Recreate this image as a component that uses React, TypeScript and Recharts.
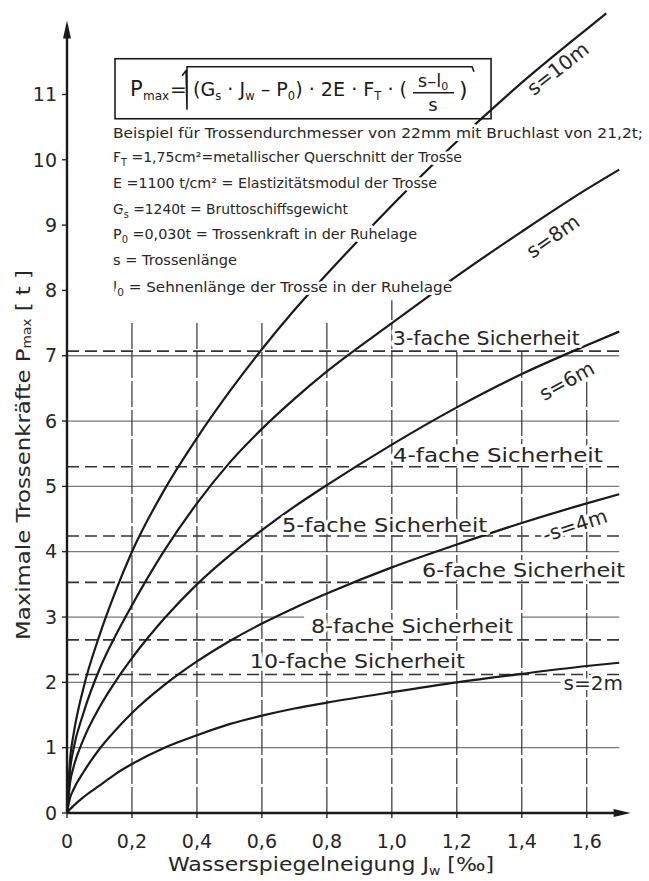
import React from "react";
import {
  LineChart,
  Line,
  XAxis,
  YAxis,
  ReferenceLine,
  ReferenceDot,
  ReferenceArea,
  Label,
} from "recharts";

// Wasserspiegelneigung J_w [‰]
const jw = [0, 0.01, 0.02, 0.05, 0.1, 0.15, 0.2, 0.3, 0.4, 0.5, 0.6, 0.7, 0.8, 1.0, 1.2, 1.4, 1.6, 1.7];
const jw10 = [0, 0.01, 0.02, 0.05, 0.1, 0.15, 0.2, 0.3, 0.4, 0.5, 0.6, 0.7, 0.8, 1.0, 1.2, 1.4, 1.6, 1.66];

// P_max [t] per Trossenlänge
const s10 = [0, 0.85, 1.2, 1.9, 2.72, 3.4, 4.0, 4.95, 5.74, 6.45, 7.1, 7.7, 8.25, 9.3, 10.28, 11.18, 12.0, 12.24];
const s8 = [0, 0.68, 0.98, 1.52, 2.2, 2.72, 3.18, 4.02, 4.74, 5.36, 5.88, 6.34, 6.76, 7.5, 8.22, 8.9, 9.55, 9.85];
const s6 = [0, 0.48, 0.7, 1.12, 1.62, 2.02, 2.37, 2.98, 3.5, 3.94, 4.33, 4.69, 5.02, 5.64, 6.21, 6.72, 7.16, 7.37];
const s4 = [0, 0.24, 0.36, 0.62, 0.98, 1.27, 1.53, 1.96, 2.32, 2.63, 2.9, 3.14, 3.36, 3.76, 4.11, 4.44, 4.74, 4.88];
const s2 = [0, 0.06, 0.11, 0.24, 0.42, 0.6, 0.75, 1.0, 1.19, 1.36, 1.49, 1.6, 1.69, 1.85, 2.0, 2.13, 2.25, 2.3];

// Bruchlast 21,2 t / Sicherheit
const safetyFactor = [3, 4, 5, 6, 8, 10];
const safetyLoad = [7.07, 5.3, 4.24, 3.53, 2.65, 2.12];

const xTicks = [0, 0.2, 0.4, 0.6, 0.8, 1.0, 1.2, 1.4, 1.6];
const yTicks = [0, 1, 2, 3, 4, 5, 6, 7, 8, 9, 10, 11];

const gridY = [1, 2, 3, 4, 5, 6, 7];
const gridX = [0.2, 0.4, 0.6, 0.8, 1.0, 1.2, 1.4, 1.6];

const toRows = (xs: number[], ys: number[]) => xs.map((x, i) => ({ x, y: ys[i] }));

const FONT = "DejaVu Sans, sans-serif";
const INK = "#1a1a1a";

// layout of labels (data units)
const gridYSpans: [number, number][][] = [
  [[0, 1.7]],
  [[0, 1.52]],
  [[0, 0.73], [1.4, 1.7]],
  [[0, 1.7]],
  [[0, 1.7]],
  [[0, 1.7]],
  [[0, 1.7]],
];
const gridXTop = [7.5, 7.5, 7.5, 7.5, 7.85, 7.1, 7.1, 6.6];
const safetyLabelPos = [
  { x: 1.003, y: 7.17, w: 187 },
  { x: 1.003, y: 5.375, w: 210 },
  { x: 0.662, y: 4.3, w: 205 },
  { x: 1.093, y: 3.61, w: 203 },
  { x: 0.751, y: 2.76, w: 202 },
  { x: 0.563, y: 2.22, w: 215 },
];

const halo = {
  stroke: "#fff",
  strokeWidth: 6,
  strokeLinejoin: "round" as const,
  paintOrder: "stroke" as const,
};

const sub = (t: string, size = 10, d = 4) => [
  <tspan key="a" fontSize={size} dy={d}>{t}</tspan>,
];

function TextAt(props: any) {
  const { cx, cy, children, size = 14.5, w, anchor = "start", rot = 0 } = props;
  return (
    <text
      x={cx}
      y={cy}
      fontSize={size}
      fontFamily={FONT}
      fill="#262626"
      textAnchor={anchor}
      transform={rot ? `rotate(${rot}, ${cx}, ${cy})` : undefined}
      textLength={w}
      lengthAdjust={w ? "spacingAndGlyphs" : undefined}
      {...halo}
    >
      {children}
    </text>
  );
}

function FormulaBox(p: any) {
  const { x, y, width, height } = p;
  const f = { fontFamily: FONT, fill: INK };
  return (
    <g>
      <rect x={x} y={y} width={width} height={height} fill="#fff" stroke={INK} strokeWidth={1.6} />
      <text x={x + 15} y={y + 37} fontSize={21} {...f}>P</text>
      <text x={x + 28} y={y + 41} fontSize={12} {...f}>max</text>
      <text x={x + 55} y={y + 37} fontSize={20} {...f}>=</text>
      <path
        d={`M${x + 67} ${y + 17} L${x + 71} ${y + 12} L${x + 72} ${y + 51} L${x + 72} ${y + 8} L${x + 357} ${y + 8} L${x + 359} ${y + 13}`}
        fill="none"
        stroke={INK}
        strokeWidth={1.6}
      />
      <text x={x + 78} y={y + 37} fontSize={20} textLength={214} lengthAdjust="spacingAndGlyphs" {...f}>
        (G<tspan fontSize={12} dy={4}>s</tspan>
        <tspan dy={-4}> · J</tspan>
        <tspan fontSize={12} dy={4}>w</tspan>
        <tspan dy={-4}> – P</tspan>
        <tspan fontSize={12} dy={4}>0</tspan>
        <tspan dy={-4}>) · 2E · F</tspan>
        <tspan fontSize={12} dy={4}>T</tspan>
        <tspan dy={-4}> · (</tspan>
      </text>
      <text x={x + 318} y={y + 28} fontSize={18} textAnchor="middle" {...f}>
        s–l<tspan fontSize={11} dy={3}>0</tspan>
      </text>
      <line x1={x + 298} x2={x + 339} y1={y + 34} y2={y + 34} stroke={INK} strokeWidth={1.4} />
      <text x={x + 318} y={y + 52} fontSize={18} textAnchor="middle" {...f}>s</text>
      <text x={x + 344} y={y + 38} fontSize={22} {...f}>)</text>
    </g>
  );
}

function YTitle(props: any) {
  const vb = props.viewBox || { x: 0, y: 0 };
  const cx = vb.x + 23;
  const cy = 455;
  return (
    <text
      x={cx}
      y={cy}
      transform={`rotate(-90, ${cx}, ${cy})`}
      textAnchor="middle"
      dominantBaseline="central"
      fontSize={20}
      fontFamily={FONT}
      fill="#262626"
      textLength={370}
      lengthAdjust="spacingAndGlyphs"
    >
      Maximale Trossenkräfte P<tspan fontSize={12} dy={4}>max</tspan>
      <tspan dy={-4}> [ t ]</tspan>
    </text>
  );
}

function XTitle() {
  return (
    <text x={331} y={871} textAnchor="middle" fontSize={19} fontFamily={FONT} fill="#262626" textLength={326} lengthAdjust="spacingAndGlyphs">
      Wasserspiegelneigung J<tspan fontSize={12} dy={4}>w</tspan>
      <tspan dy={-4}> [‰]</tspan>
    </text>
  );
}

const curves = [
  { xs: jw10, ys: s10 },
  { xs: jw, ys: s8 },
  { xs: jw, ys: s6 },
  { xs: jw, ys: s4 },
  { xs: jw, ys: s2 },
];

export default function App() {
  const tickStyle = { fontSize: 19, fill: "#262626", fontFamily: FONT };
  return (
    <div style={{ position: "absolute", left: 0, top: 0, width: 649, height: 881, background: "#fff" }}>
      <LineChart width={649} height={881} margin={{ top: 3, right: 18.4, bottom: 0, left: 0 }}>
        <XAxis
          type="number"
          dataKey="x"
          domain={[0, 1.735]}
          ticks={xTicks}
          interval={0}
          allowDataOverflow
          tickFormatter={(v: number) => (v === 0 ? "0" : v.toFixed(1).replace(".", ","))}
          axisLine={false}
          tickLine={{ stroke: INK, strokeWidth: 1.3 }}
          tickSize={5}
          tickMargin={17}
          height={68}
          tick={tickStyle}
        >
          <Label content={XTitle} />
        </XAxis>
        <YAxis
          type="number"
          dataKey="y"
          domain={[0, 12.4]}
          ticks={yTicks}
          interval={0}
          allowDataOverflow
          axisLine={false}
          tickLine={{ stroke: INK, strokeWidth: 1.3 }}
          tickSize={5}
          tickMargin={5}
          width={67}
          tick={tickStyle}
        >
          <Label content={YTitle} />
        </YAxis>

        {gridY.map((g, i) =>
          gridYSpans[i].map(([a, b], j) => (
            <ReferenceLine
              key={`gy${g}-${j}`}
              segment={[{ x: a, y: g }, { x: b, y: g }]}
              stroke="#777"
              strokeWidth={1.3}
              ifOverflow="visible"
            />
          ))
        )}
        {gridX.map((g, i) => (
          <ReferenceLine
            key={`gx${g}`}
            segment={[{ x: g, y: 0 }, { x: g, y: gridXTop[i] }]}
            stroke="#333"
            strokeWidth={1.2}
            strokeDasharray="26 3"
            ifOverflow="visible"
          />
        ))}
        {safetyLoad.map((v) => (
          <ReferenceLine
            key={`sl${v}`}
            segment={[{ x: 0, y: v }, { x: 1.7, y: v }]}
            stroke="#333"
            strokeWidth={1.6}
            strokeDasharray="12 6"
            ifOverflow="visible"
          />
        ))}

        {curves.map((c, i) => (
          <Line
            key={i}
            data={toRows(c.xs, c.ys)}
            dataKey="y"
            type="monotone"
            stroke={INK}
            strokeWidth={2.2}
            dot={false}
            activeDot={false}
            isAnimationActive={false}
          />
        ))}

        {/* axes with arrows */}
        <ReferenceLine segment={[{ x: 0, y: 0 }, { x: 0, y: 12.0 }]} stroke={INK} strokeWidth={2.4} ifOverflow="visible" />
        <ReferenceLine segment={[{ x: 0, y: 0 }, { x: 1.7, y: 0 }]} stroke={INK} strokeWidth={2.6} ifOverflow="visible" />
        <ReferenceDot
          x={0}
          y={12.07}
          ifOverflow="visible"
          shape={(p: any) => (
            <polygon points={`${p.cx},${p.cy - 4} ${p.cx - 4},${p.cy + 14} ${p.cx + 4},${p.cy + 14}`} fill={INK} />
          )}
        />
        <ReferenceDot
          x={1.735}
          y={0}
          ifOverflow="visible"
          shape={(p: any) => (
            <polygon points={`${p.cx},${p.cy} ${p.cx - 17},${p.cy - 4} ${p.cx - 17},${p.cy + 4}`} fill={INK} />
          )}
        />

        {/* safety labels */}
        {safetyFactor.map((n, i) => (
          <ReferenceDot
            key={`lab${n}`}
            x={safetyLabelPos[i].x}
            y={safetyLabelPos[i].y}
            ifOverflow="visible"
            shape={(p: any) => (
              <TextAt cx={p.cx} cy={p.cy} size={19} w={safetyLabelPos[i].w}>
                {`${n}-fache  Sicherheit`}
              </TextAt>
            )}
          />
        ))}

        {/* curve labels */}
        <ReferenceDot x={1.524} y={11.42} ifOverflow="visible" shape={(p: any) => <TextAt cx={p.cx} cy={p.cy + 7} size={20} anchor="middle" rot={-38}>s=10m</TextAt>} />
        <ReferenceDot x={1.508} y={8.85} ifOverflow="visible" shape={(p: any) => <TextAt cx={p.cx} cy={p.cy + 7} size={20} anchor="middle" rot={-35}>s=8m</TextAt>} />
        <ReferenceDot x={1.549} y={6.63} ifOverflow="visible" shape={(p: any) => <TextAt cx={p.cx} cy={p.cy + 7} size={20} anchor="middle" rot={-29}>s=6m</TextAt>} />
        <ReferenceDot x={1.57} y={4.41} ifOverflow="visible" shape={(p: any) => <TextAt cx={p.cx} cy={p.cy + 7} size={20} anchor="middle" rot={-18}>-s=4m</TextAt>} />
        <ReferenceDot x={1.62} y={1.99} ifOverflow="visible" shape={(p: any) => <TextAt cx={p.cx} cy={p.cy + 7} size={20} anchor="middle">s=2m</TextAt>} />

        {/* formula */}
        <ReferenceArea x1={0.1478} x2={1.3054} y1={10.628} y2={11.547} ifOverflow="visible" shape={FormulaBox} />

        {/* example block */}
        <ReferenceDot x={0.1416} y={10.34} ifOverflow="visible" shape={(p: any) => <TextAt cx={p.cx} cy={p.cy} w={530}>Beispiel für Trossendurchmesser von 22mm mit Bruchlast von 21,2t;</TextAt>} />
        <ReferenceDot x={0.1416} y={9.97} ifOverflow="visible" shape={(p: any) => <TextAt cx={p.cx} cy={p.cy} w={349}>F{sub("T")}<tspan dy={-4}> =1,75cm²=metallischer Querschnitt der Trosse</tspan></TextAt>} />
        <ReferenceDot x={0.1416} y={9.57} ifOverflow="visible" shape={(p: any) => <TextAt cx={p.cx} cy={p.cy} w={324}>E =1100 t/cm² = Elastizitätsmodul der Trosse</TextAt>} />
        <ReferenceDot x={0.1416} y={9.17} ifOverflow="visible" shape={(p: any) => <TextAt cx={p.cx} cy={p.cy} w={235}>G{sub("s")}<tspan dy={-4}> =1240t = Bruttoschiffsgewicht</tspan></TextAt>} />
        <ReferenceDot x={0.1416} y={8.79} ifOverflow="visible" shape={(p: any) => <TextAt cx={p.cx} cy={p.cy} w={304}>P{sub("0")}<tspan dy={-4}> =0,030t = Trossenkraft in der Ruhelage</tspan></TextAt>} />
        <ReferenceDot x={0.1416} y={8.39} ifOverflow="visible" shape={(p: any) => <TextAt cx={p.cx} cy={p.cy} w={124}>s  = Trossenlänge</TextAt>} />
        <ReferenceDot x={0.1416} y={7.98} ifOverflow="visible" shape={(p: any) => <TextAt cx={p.cx} cy={p.cy} w={339}>l{sub("0")}<tspan dy={-4}> = Sehnenlänge der Trosse in der Ruhelage</tspan></TextAt>} />
      </LineChart>
    </div>
  );
}
